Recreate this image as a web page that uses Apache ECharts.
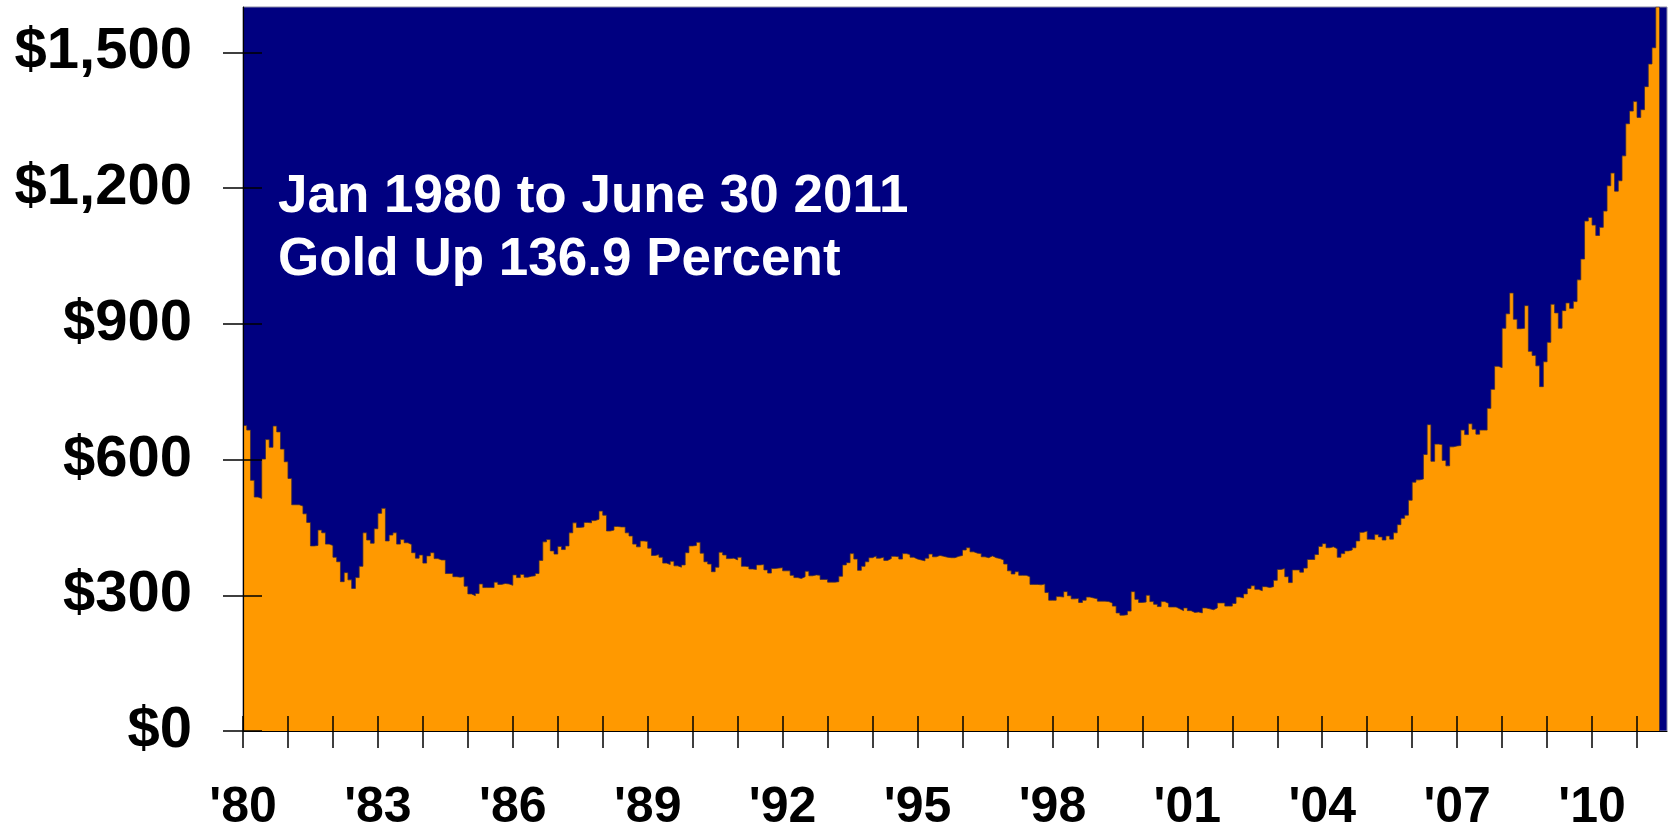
<!DOCTYPE html>
<html><head><meta charset="utf-8">
<script src="https://cdn.jsdelivr.net/npm/echarts@6/dist/echarts.min.js"></script>
<style>html,body{margin:0;padding:0;background:#fff}#c{width:1669px;height:829px}</style>
</head><body><div id="c"></div>
<script>
// Monthly average gold price (USD/oz), Jan 1980 - Jun 2011
const goldPrice = [
  // 1980
  675, 665, 554, 517, 514, 601, 644, 627, 674, 661, 623, 595,
  // 1981
  558, 500, 500, 497, 480, 461, 409, 410, 444, 438, 413, 410,
  // 1982
  384, 374, 330, 350, 334, 315, 339, 364, 438, 422, 415, 447,
  // 1983
  481, 492, 420, 433, 438, 413, 423, 416, 412, 394, 382, 389,
  // 1984
  371, 387, 394, 381, 378, 378, 348, 348, 341, 340, 341, 320,
  // 1985
  303, 299, 304, 325, 317, 317, 317, 329, 324, 326, 325, 322,
  // 1986
  345, 339, 346, 340, 342, 343, 348, 377, 418, 423, 398, 391,
  // 1987
  408, 401, 409, 438, 460, 450, 451, 461, 460, 465, 468, 486,
  // 1988
  477, 442, 444, 452, 451, 451, 438, 431, 413, 407, 420, 419,
  // 1989
  404, 388, 390, 384, 371, 368, 375, 365, 362, 367, 394, 409,
  // 1990
  410, 417, 393, 374, 369, 352, 362, 395, 389, 381, 382, 378,
  // 1991
  384, 364, 363, 358, 357, 367, 368, 356, 349, 359, 360, 361,
  // 1992
  354, 354, 344, 339, 337, 341, 353, 343, 345, 344, 335, 335,
  // 1993
  329, 329, 330, 342, 367, 372, 392, 380, 355, 364, 374, 383,
  // 1994
  387, 382, 384, 377, 381, 386, 385, 380, 392, 390, 384, 380,
  // 1995
  378, 376, 382, 391, 385, 388, 386, 384, 383, 383, 386, 388,
  // 1996
  400, 405, 396, 393, 392, 385, 383, 387, 383, 381, 378, 369,
  // 1997
  354, 347, 352, 344, 344, 341, 324, 324, 323, 325, 306, 289,
  // 1998
  289, 297, 296, 308, 299, 292, 293, 284, 289, 296, 294, 292,
  // 1999
  287, 287, 286, 283, 276, 261, 256, 257, 265, 308, 291, 284,
  // 2000
  285, 300, 286, 280, 275, 286, 282, 274, 274, 270, 266, 272,
  // 2001
  266, 262, 263, 261, 272, 270, 268, 272, 283, 283, 276, 276,
  // 2002
  282, 296, 294, 303, 315, 321, 313, 310, 319, 317, 319, 333,
  // 2003
  357, 359, 341, 328, 356, 356, 351, 360, 379, 379, 390, 408,
  // 2004
  414, 405, 407, 403, 384, 392, 398, 400, 405, 420, 439, 442,
  // 2005
  424, 423, 434, 429, 422, 431, 424, 438, 456, 470, 477, 510,
  // 2006
  550, 555, 557, 611, 677, 596, 634, 633, 598, 586, 628, 630,
  // 2007
  631, 665, 655, 679, 667, 656, 665, 665, 713, 755, 806, 803,
  // 2008
  890, 922, 968, 910, 889, 890, 940, 839, 830, 807, 761, 816,
  // 2009
  859, 943, 924, 890, 929, 946, 934, 949, 997, 1043, 1127, 1135,
  // 2010
  1118, 1095, 1113, 1149, 1205, 1233, 1193, 1216, 1271, 1342, 1370, 1391,
  // 2011
  1356, 1373, 1424, 1474, 1510, 1600
];
const monthSlots = 380;            // axis runs a little past June 2011 (months from Jan 1980)
const xTickLabels = ["'80", "'83", "'86", "'89", "'92", "'95", "'98", "'01", "'04", "'07", "'10"];
const xLabelMonths = xTickLabels.map((_, i) => i * 36);
const yearTicks = [];
for (let i = 0; i <= 372; i += 12) yearTicks.push(i);
const yTickValues = [0, 300, 600, 900, 1200, 1500];
const yTickLabels = ['$0', '$300', '$600', '$900', '$1,200', '$1,500'];
const noteText = 'Jan 1980 to June 30 2011\nGold Up 136.9 Percent';

// each month's price holds from the start of its month to the start of the next (step "end")
const stepData = goldPrice.map((v, i) => [i, v]);
stepData.push([goldPrice.length, goldPrice[goldPrice.length - 1]]);
stepData.push([goldPrice.length, 0]);

const FONT = '"Liberation Sans", Arial, Helvetica, sans-serif';
const chart = echarts.init(document.getElementById('c'), null, { renderer: 'canvas' });
chart.setOption({
  animation: false,
  backgroundColor: '#ffffff',
  title: {
    text: noteText, left: 278, top: 166, padding: 0,
    textStyle: { color: '#ffffff', fontSize: 53, fontWeight: 'bold', fontFamily: FONT, lineHeight: 63 }
  },
  grid: {
    left: 243, right: 2, top: 7, bottom: 98, containLabel: false, outerBoundsMode: 'none',
    show: true, backgroundColor: '#000080', borderColor: '#8a8aa6', borderWidth: 1
  },
  xAxis: [
    {
      type: 'value', min: 0, max: monthSlots, position: 'bottom', z: 10,
      axisLine: { show: true, onZero: false, lineStyle: { color: '#000', width: 1.2 } },
      axisTick: { show: true, inside: false, length: 17, customValues: yearTicks, lineStyle: { color: '#000', width: 1.5 } },
      axisLabel: {
        customValues: xLabelMonths, margin: 52, color: '#000', fontSize: 50, fontWeight: 'bold', fontFamily: FONT,
        formatter: (v) => xTickLabels[xLabelMonths.indexOf(v)] || ''
      },
      splitLine: { show: false }
    },
    {
      type: 'value', min: 0, max: monthSlots, position: 'bottom', z: 10,
      axisLine: { show: false },
      axisTick: { show: true, inside: true, length: 15, customValues: yearTicks, lineStyle: { color: '#000', width: 1.5 } },
      axisLabel: { show: false }, splitLine: { show: false }
    }
  ],
  yAxis: [
    {
      type: 'value', min: 0, max: 1600, interval: 300, position: 'left', z: 10,
      axisLine: { show: true, onZero: false, lineStyle: { color: '#000', width: 1.2 } },
      axisTick: { show: true, inside: false, length: 20, customValues: yTickValues, lineStyle: { color: '#000', width: 1.5 } },
      axisLabel: {
        customValues: yTickValues, margin: 51, color: '#000', fontSize: 58, fontWeight: 'bold', fontFamily: FONT,
        formatter: (v) => yTickLabels[yTickValues.indexOf(v)] || ''
      },
      splitLine: { show: false }
    },
    {
      type: 'value', min: 0, max: 1600, interval: 300, position: 'left', z: 10,
      axisLine: { show: false },
      axisTick: { show: true, inside: true, length: 19, customValues: yTickValues, lineStyle: { color: '#000', width: 1.5 } },
      axisLabel: { show: false }, splitLine: { show: false }
    }
  ],
  series: [
    {
      type: 'line', xAxisIndex: 0, yAxisIndex: 0, data: stepData, step: 'end',
      symbol: 'none', silent: true, clip: true,
      lineStyle: { color: '#3c2c3c', width: 1, opacity: 0.75 },
      areaStyle: { color: '#FF9900', opacity: 1, origin: 'start' },
      z: 2
    }
  ]
});
</script></body></html>
